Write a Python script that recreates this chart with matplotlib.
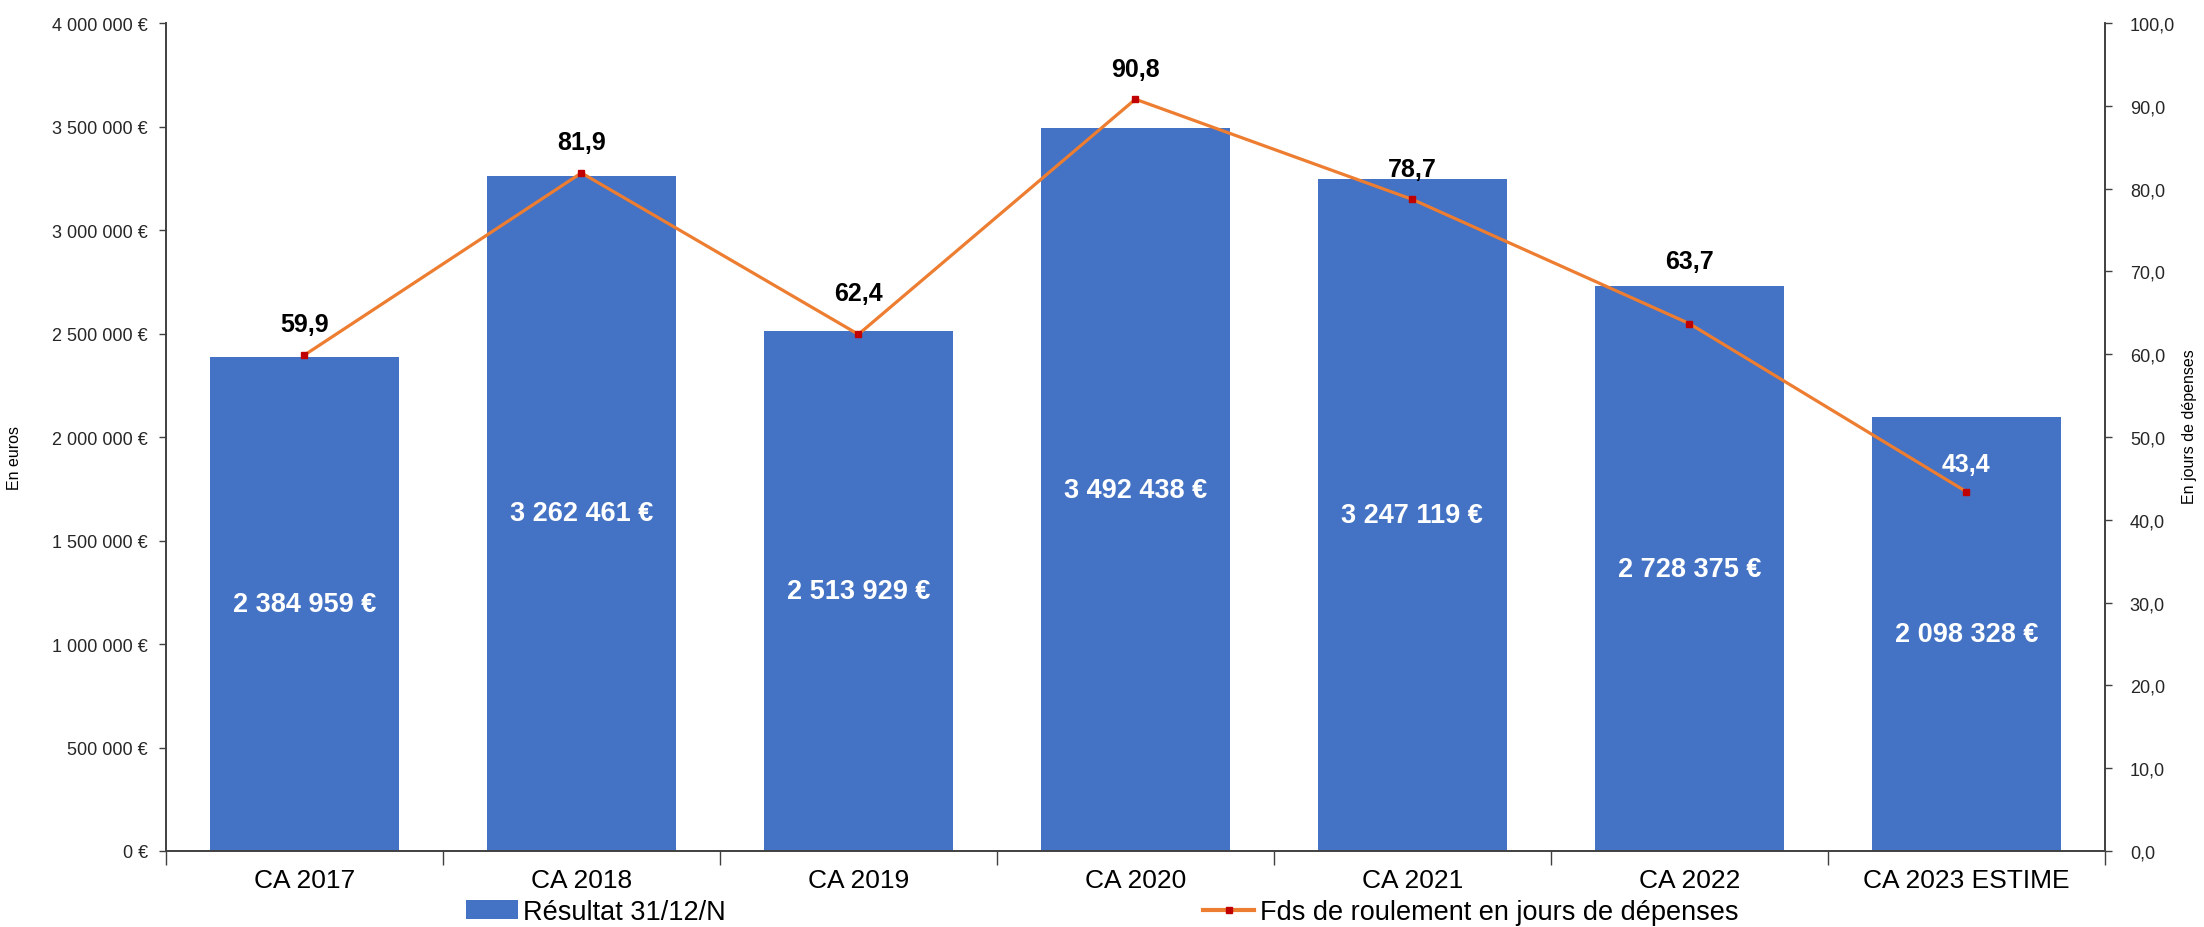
import matplotlib
matplotlib.use("Agg")
import matplotlib.pyplot as plt
import matplotlib.ticker as ticker
from matplotlib.patches import Patch
from matplotlib.lines import Line2D

plt.rcParams['font.family'] = ['Liberation Sans', 'DejaVu Sans']

# ── Data ──────────────────────────────────────────────────────────────────────
categories = ['CA 2017', 'CA 2018', 'CA 2019', 'CA 2020', 'CA 2021', 'CA 2022', 'CA 2023 ESTIME']
resultat = [2384959, 3262461, 2513929, 3492438, 3247119, 2728375, 2098328]
fds_jours = [59.9, 81.9, 62.4, 90.8, 78.7, 63.7, 43.4]

bar_label = 'Résultat 31/12/N'
line_label = 'Fds de roulement en jours de dépenses'

BLUE = '#4472C4'
ORANGE = '#ED7D31'
RED = '#C00000'
SPINE = '#404040'

Y_MAX = 4000000


def euros(v, _=None):
    return f'{int(round(v)):,} €'.replace(',', ' ')


def jours(v, _=None):
    return f'{v:.1f}'.replace('.', ',')


# ── Plot ──────────────────────────────────────────────────────────────────────
fig = plt.figure(figsize=(22.04, 9.28), dpi=100)
ax = fig.add_axes([0.0753, 0.0819, 0.8797, 0.8922])
ax2 = ax.twinx()

x = list(range(len(categories)))
ax.bar(x, resultat, width=0.68, color=BLUE, zorder=2)

for xi, v in zip(x, resultat):
    ax.text(xi, v / 2, euros(v), ha='center', va='center',
            color='white', fontsize=19.5, fontweight='bold')

ax.set_xlim(-0.5, len(categories) - 0.5)
ax.set_ylim(0, Y_MAX)
ax.yaxis.set_major_locator(ticker.MultipleLocator(500000))
ax.yaxis.set_major_formatter(ticker.FuncFormatter(euros))

# ticks between categories, labels centred on the bars
ax.set_xticks([i - 0.5 for i in range(len(categories) + 1)])
ax.set_xticklabels([])
ax.set_xticks(x, minor=True)
ax.set_xticklabels(categories, minor=True)
ax.tick_params(axis='x', which='major', length=10, width=1, color=SPINE, direction='out')
ax.tick_params(axis='x', which='minor', length=0, pad=12, labelsize=19)
ax.tick_params(axis='y', length=5, width=1, color=SPINE, pad=8, labelsize=13, labelcolor='#262626')

ax2.plot(x, fds_jours, color=ORANGE, lw=2.3, marker='s', markersize=5,
         markerfacecolor=RED, markeredgecolor=RED, zorder=3)
ax2.set_ylim(0, 100)
ax2.yaxis.set_major_locator(ticker.MultipleLocator(10))
ax2.yaxis.set_major_formatter(ticker.FuncFormatter(jours))
ax2.tick_params(axis='y', length=5, width=1, color=SPINE, pad=13, labelsize=13, labelcolor='#262626')

# day labels above the markers (two nudged higher to clear the bar tops),
# white when the label ends up inside the bar
label_offsets = [22, 22, 30, 22, 22, 45, 20]
px_per_unit = ax.get_position().height * fig.get_figheight() * fig.dpi / Y_MAX
for xi, v, b, off in zip(x, fds_jours, resultat, label_offsets):
    label_pos = v / 100 * Y_MAX + off * fig.dpi / 72 / px_per_unit
    inside = label_pos < b - 100000
    ax2.annotate(jours(v), (xi, v), xytext=(0, off), textcoords='offset points',
                 ha='center', va='center', fontsize=18, fontweight='bold',
                 color='white' if inside else 'black')

for a in (ax, ax2):
    a.spines['top'].set_visible(False)
    for s in ('left', 'right', 'bottom'):
        a.spines[s].set_color(SPINE)
        a.spines[s].set_linewidth(1.2)

fig.text(0.0065, 0.507, 'En euros', rotation=90, ha='center', va='center', fontsize=11.5)
fig.text(0.9935, 0.54, 'En jours de dépenses', rotation=90, ha='center', va='center', fontsize=11.5)

handles = [
    Patch(facecolor=BLUE),
    Line2D([], [], color=ORANGE, lw=3, marker='s', markersize=5,
           markerfacecolor=RED, markeredgecolor=RED),
]
fig.legend(handles, [bar_label, line_label], loc='lower center', bbox_to_anchor=(0.5002, 0.002),
           ncol=2, frameon=False, fontsize=19.5, handlelength=1.9, handleheight=0.7,
           handletextpad=0.22, columnspacing=17.6, borderpad=0, borderaxespad=0)

fig.savefig('out.png', dpi=100)
